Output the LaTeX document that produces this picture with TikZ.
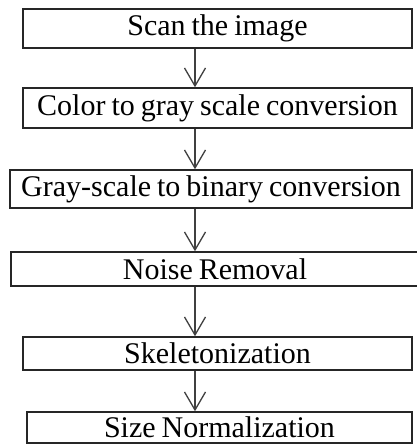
\documentclass[tikz,border=0pt]{standalone}
\usepackage{fontspec}
\setmainfont{Liberation Serif}
\usetikzlibrary{positioning, arrows.meta}

\begin{document}
\begin{tikzpicture}[x=1pt, y=-1pt]
        % Definitions
        \def\axisX{195}
        \def\textsize{\fontsize{30}{33}\selectfont\spaceskip=0.2em plus 0.1em}

        % Styles
        \tikzstyle{stage} = [draw=black!85, line width=1.5pt, rectangle, inner sep=0pt, font=\textsize]
        \tikzstyle{flow} = [draw=black!75, line width=1.1pt, -{Straight Barb[length=18pt, width=21pt, line width=1.3pt]}]

        \useasboundingbox (0,0) rectangle (416,445);

        % Stages
        \node[stage, minimum width=389pt, minimum height=39pt] (scan) at (217.5, 28.5) {Scan the image};
        \node[stage, minimum width=389pt, minimum height=40pt] (gray) at (217.5, 108) {Color to gray scale conversion};
        \node[stage, minimum width=402pt, minimum height=38pt] (binary) at (211, 189) {Gray-scale to binary conversion};
        \node[stage, minimum width=408pt, minimum height=34pt] (noise) at (215, 269) {Noise Removal};
        \node[stage, minimum width=389pt, minimum height=33pt] (skel) at (217.5, 353.5) {Skeletonization};
        \node[stage, minimum width=385pt, minimum height=31pt] (size) at (219.5, 427.5) {Size Normalization};

        % Flow
        \coordinate (axis) at (\axisX, 0);
        \foreach \a/\b in {scan/gray, gray/binary, binary/noise, noise/skel, skel/size} {
            \draw[flow] (\a.south -| axis) -- (\b.north -| axis);
        }

    \end{tikzpicture}
\end{document}
